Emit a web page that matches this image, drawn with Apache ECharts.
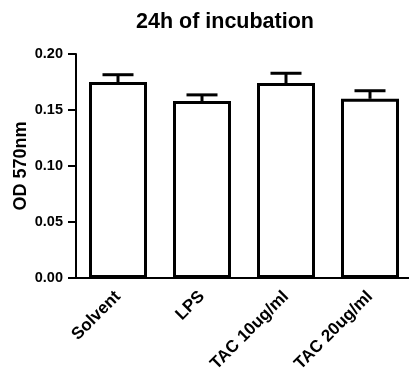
<!DOCTYPE html>
<html>
<head>
<meta charset="utf-8">
<script src="https://cdn.jsdelivr.net/npm/echarts@6/dist/echarts.min.js"></script>
<style>
html,body{margin:0;padding:0;background:#fff;}
#chart{width:409px;height:381px;}
</style>
</head>
<body>
<div id="chart"></div>
<script>
var categories = ['Solvent', 'LPS', 'TAC 10ug/ml', 'TAC 20ug/ml'];
var means = [0.175, 0.158, 0.174, 0.160];
var errors = [0.0065, 0.0055, 0.0088, 0.0072];
var yTicks = [0, 0.05, 0.10, 0.15, 0.20];

var FONT = '"Liberation Sans", Arial, sans-serif';
var chart = echarts.init(document.getElementById('chart'), null, {renderer: 'canvas'});

var errData = categories.map(function (c, i) { return [i, means[i], means[i] + errors[i]]; });

chart.setOption({
  animation: false,
  backgroundColor: '#fff',
  title: {
    text: '24h of incubation',
    left: 131, top: 6,
    textStyle: {fontFamily: FONT, fontWeight: 'bold', fontSize: 21.5, color: '#000'}
  },
  grid: {left: 76, top: 54, width: 336, height: 224, containLabel: false, outerBoundsMode: 'none'},
  xAxis: {
    type: 'category',
    data: categories,
    boundaryGap: true,
    axisLine: {lineStyle: {color: '#000', width: 2}},
    axisTick: {alignWithLabel: true, length: 6, lineStyle: {color: '#000', width: 2}},
    axisLabel: {rotate: 45, margin: 16, interval: 0, fontFamily: FONT, fontWeight: 'bold', fontSize: 17, color: '#000'}
  },
  yAxis: {
    type: 'value',
    min: yTicks[0], max: yTicks[yTicks.length - 1], interval: 0.05,
    name: 'OD 570nm',
    nameLocation: 'middle',
    nameGap: 46,
    nameMoveOverlap: false,
    nameTextStyle: {fontFamily: FONT, fontWeight: 'bold', fontSize: 18, color: '#000'},
    splitLine: {show: false},
    axisLine: {show: true, lineStyle: {color: '#000', width: 2}},
    axisTick: {show: true, length: 8, lineStyle: {color: '#000', width: 2}},
    axisLabel: {
      margin: 13,
      fontFamily: FONT, fontWeight: 'bold', fontSize: 14.5, color: '#000',
      formatter: function (v) { return v.toFixed(2); }
    }
  },
  series: [
    {
      type: 'bar',
      data: means,
      barWidth: 58,
      itemStyle: {color: '#fff', borderColor: '#000', borderWidth: 3},
      z: 2
    },
    {
      type: 'custom',
      data: errData,
      z: 3,
      renderItem: function (params, api) {
        var x = api.value(0);
        var lo = api.coord([x, api.value(1)]);
        var hi = api.coord([x, api.value(2)]);
        var half = 15.5;
        var st = {stroke: '#000', lineWidth: 3, fill: null};
        return {
          type: 'group',
          children: [
            {type: 'line', shape: {x1: lo[0], y1: lo[1], x2: hi[0], y2: hi[1]}, style: st},
            {type: 'line', shape: {x1: hi[0] - half, y1: hi[1], x2: hi[0] + half, y2: hi[1]}, style: st}
          ]
        };
      }
    }
  ]
});
</script>
</body>
</html>
